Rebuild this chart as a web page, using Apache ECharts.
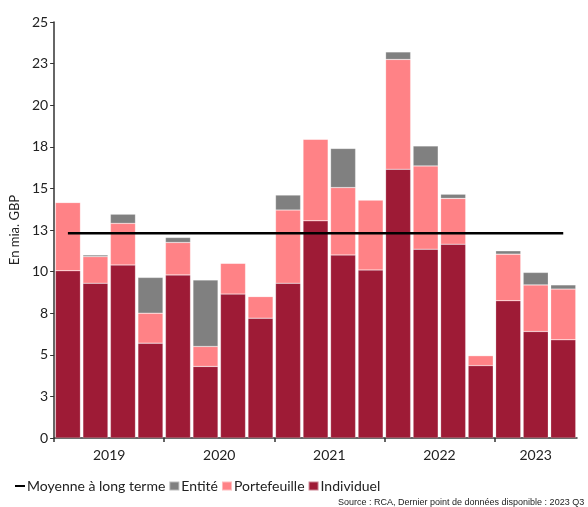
<!DOCTYPE html>
<html>
<head>
<meta charset="utf-8">
<script src="https://cdn.jsdelivr.net/npm/echarts@6/dist/echarts.min.js"></script>
<style>
html,body{margin:0;padding:0;background:#fff;}
#c{width:588px;height:507px;}
</style>
</head>
<body>
<div id="c"></div>
<script>
const quarters = ['2019 T1','2019 T2','2019 T3','2019 T4','2020 T1','2020 T2','2020 T3','2020 T4','2021 T1','2021 T2','2021 T3','2021 T4','2022 T1','2022 T2','2022 T3','2022 T4','2023 T1','2023 T2','2023 T3'];
const individuel  = [10.05, 9.3, 10.4, 5.7, 9.8, 4.3, 8.65, 7.2, 9.3, 13.05, 11.0, 10.1, 16.15, 11.35, 11.65, 4.35, 8.25, 6.4, 5.9];
const portefeuille = [4.1, 1.6, 2.5, 1.8, 1.95, 1.2, 1.85, 1.3, 4.4, 4.9, 4.05, 4.2, 6.6, 5.0, 2.75, 0.6, 2.8, 2.8, 3.05];
const entite      = [0, 0.1, 0.55, 2.15, 0.3, 4.0, 0, 0, 0.9, 0, 2.35, 0, 0.45, 1.2, 0.25, 0, 0.2, 0.75, 0.25];
const longTermAverage = 12.3;
const yearLabels = ['2019','2020','2021','2022','2023'];
const yearLabelPositions = [2, 6, 10, 14, 17.5];
const yearTickPositions = [0, 4, 8, 12, 16];
const yTickLabels = ['0','3','5','8','10','13','15','18','20','23','25'];

const FONT = 'Lato';
const chart = echarts.init(document.getElementById('c'), null, {renderer:'canvas'});
const segStyle = (color) => ({color: color, borderColor: 'rgba(255,255,255,0.45)', borderWidth: 0.5});
chart.setOption({
  animation: false,
  textStyle: {fontFamily: FONT},
  grid: {left: 52, right: 11, top: 22, bottom: 69},
  legend: {
    left: 10, top: 474, itemGap: 3, itemWidth: 10, itemHeight: 9,
    textStyle: {fontFamily: FONT, fontSize: 14, color: '#222', padding: [0,0,0,-3]},
    data: [
      {name: 'Moyenne à long terme', icon: 'path://M0,0 L12,0 L12,2.4 L0,2.4 Z', itemStyle: {color:'#000'}},
      {name: 'Entité', icon: 'rect'},
      {name: 'Portefeuille', icon: 'rect'},
      {name: 'Individuel', icon: 'rect'}
    ]
  },
  xAxis: [
    {type: 'category', data: quarters, show: false, boundaryGap: true},
    {type: 'value', min: 0, max: 19, position: 'bottom',
     axisLine: {show: true, onZero: false, lineStyle: {color: '#333', width: 1.5}},
     axisTick: {show: true, length: 4, customValues: yearTickPositions, lineStyle: {color: '#333', width: 1.5}},
     axisLabel: {show: true, customValues: yearLabelPositions, margin: 10, fontSize: 14, color: '#222', fontFamily: FONT,
       formatter: (v) => yearLabels[yearLabelPositions.indexOf(v)] || ''},
     splitLine: {show: false}}
  ],
  yAxis: {
    type: 'value', min: 0, max: 25, interval: 2.5,
    name: 'En mia. GBP', nameLocation: 'middle', nameGap: 30, nameRotate: 90,
    nameTextStyle: {fontFamily: FONT, fontSize: 13, color: '#222'},
    axisLine: {show: true, lineStyle: {color: '#333', width: 1.5}},
    axisTick: {show: true, length: 4, lineStyle: {color: '#333'}},
    axisLabel: {fontSize: 14, color: '#222', margin: 6, fontFamily: FONT,
      formatter: (v) => yTickLabels[Math.round(v / 2.5)]},
    splitLine: {show: false}
  },
  series: [
    {name: 'Individuel', type: 'bar', stack: 't', xAxisIndex: 0, data: individuel, barCategoryGap: '9%', itemStyle: segStyle('#9E1B36')},
    {name: 'Portefeuille', type: 'bar', stack: 't', xAxisIndex: 0, data: portefeuille, itemStyle: segStyle('#FF8286')},
    {name: 'Entité', type: 'bar', stack: 't', xAxisIndex: 0, data: entite, itemStyle: segStyle('#808080')},
    {name: 'Moyenne à long terme', type: 'line', xAxisIndex: 0, symbol: 'none', data: quarters.map(() => longTermAverage),
     lineStyle: {color: '#000', width: 2.5}, itemStyle: {color: '#000'}, z: 5}
  ],
  graphic: [
    {type: 'text', left: 338, top: 498, style: {text: 'Source : RCA, Dernier point de données disponible : 2023 Q3', font: '9px "Liberation Sans", Arial, sans-serif', fill: '#222'}}
  ]
});
</script>
</body>
</html>
